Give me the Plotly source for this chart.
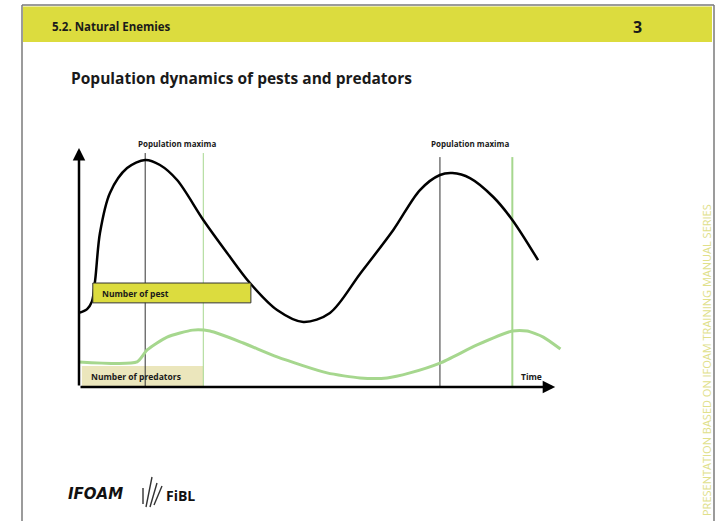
import plotly.graph_objects as go

# ---- data (time in arbitrary units 0..100, population in relative units 0..100)
pest_time = [0, 1.7, 2.7, 3.4, 4.4, 6.5, 10.1, 13.9, 17.0, 20.6, 26.1, 31.1, 35.9,
             41.6, 47.1, 52.7, 59.0, 66.0, 71.6, 75.8, 78.4, 82.1, 87.0, 91.0, 96.4]
pest_count = [31.0, 32.6, 35.7, 44.8, 64.4, 81.2, 91.6, 95.0, 92.9, 86.6, 69.9, 56.1, 43.5,
              32.2, 27.2, 31.0, 47.3, 65.7, 82.4, 88.7, 89.5, 87.4, 79.5, 69.9, 53.1]

predator_time = [0, 12.2, 14.3, 18.5, 23.9, 27.5, 34.5, 41.6, 52.1, 59.0, 64.7, 69.5,
                 75.8, 83.6, 91.0, 94.1, 97.5, 101.1]
predator_count = [10.5, 10.5, 15.5, 20.9, 23.8, 23.4, 18.4, 12.6, 5.9, 3.8, 3.8, 5.9,
                  10.0, 17.6, 23.4, 23.4, 20.9, 15.9]

pest_maxima = [13.9, 75.8]        # times of pest population maxima
predator_maxima = [26.1, 91.0]    # times of predator population maxima
maxima_top = [97.9, 96.2]
maxima_label = "Population maxima"
maxima_label_pos = [20.6, 82.1]

header_text = "5.2. Natural Enemies"
page_number = "3"
title_text = "Population dynamics of pests and predators"
side_text = "PRESENTATION BASED ON IFOAM TRAINING MANUAL SERIES"

W, H = 718, 521
YELLOW = "#dcdc3e"
GREEN = "#a6d78e"
FONT = "Open Sans"

X0_PX, X1_PX, X_MAX = 79, 579, 105


def px(x):
    return x / W


def py(y):
    return 1 - y / H


def data_to_paper_x(t):
    return px(X0_PX + (X1_PX - X0_PX) * t / X_MAX)


fig = go.Figure()

# vertical marker lines at the maxima
for i, t in enumerate(pest_maxima):
    fig.add_trace(go.Scatter(x=[t, t], y=[0, maxima_top[i]], mode="lines",
                             line=dict(color="#333333", width=1), hoverinfo="skip"))
for i, t in enumerate(predator_maxima):
    fig.add_trace(go.Scatter(x=[t, t], y=[0, maxima_top[i]], mode="lines",
                             line=dict(color=GREEN, width=1 if i == 0 else 2), hoverinfo="skip"))

# population curves
fig.add_trace(go.Scatter(x=predator_time, y=predator_count, mode="lines",
                         line=dict(color=GREEN, width=3, shape="spline", smoothing=0.6),
                         name="Number of predators"))
fig.add_trace(go.Scatter(x=pest_time, y=pest_count, mode="lines",
                         line=dict(color="black", width=2.5, shape="spline", smoothing=0.9),
                         name="Number of pest"))

shapes = [
    # slide frame
    dict(type="line", xref="paper", yref="paper", x0=px(22), x1=px(714), y0=py(5), y1=py(5),
         line=dict(color="#7a7a7a", width=1.5)),
    dict(type="line", xref="paper", yref="paper", x0=px(22), x1=px(22), y0=py(5), y1=0,
         line=dict(color="#7a7a7a", width=1.5)),
    dict(type="line", xref="paper", yref="paper", x0=px(714), x1=px(714), y0=py(5), y1=0,
         line=dict(color="#7a7a7a", width=1.5)),
    # header band
    dict(type="rect", xref="paper", yref="paper", x0=px(23), x1=px(712), y0=py(42), y1=py(6.5),
         fillcolor=YELLOW, line=dict(width=0), layer="below"),
    # label boxes
    dict(type="rect", xref="x", yref="y", x0=0.6, x1=26.1, y0=0, y1=8.8,
         fillcolor="#ebe6bc", line=dict(width=0), layer="below"),
    dict(type="rect", xref="x", yref="y", x0=2.9, x1=36.1, y0=35.2, y1=43.5,
         fillcolor=YELLOW, line=dict(color="#333333", width=1), layer="above"),
    # FiBL mark
    dict(type="path", xref="paper", yref="paper",
         path=f"M {px(146)},{py(507)} L {px(152)},{py(477)} M {px(150)},{py(507)} L {px(157)},{py(483)}"
              f" M {px(154)},{py(505)} L {px(162)},{py(486)} M {px(143)},{py(488)} L {px(143)},{py(504)}",
         line=dict(color="#333333", width=1.4)),
]

annotations = [
    dict(text=f"<b>{header_text}</b>", xref="paper", yref="paper", x=px(50), y=py(27),
         xanchor="left", yanchor="middle", showarrow=False,
         font=dict(family=FONT, size=11.5, color="#1a1a1a")),
    dict(text=f"<b>{page_number}</b>", xref="paper", yref="paper", x=px(637), y=py(27),
         xanchor="center", yanchor="middle", showarrow=False,
         font=dict(family=FONT, size=16, color="#1a1a1a")),
    dict(text=f"<b>{title_text}</b>", xref="paper", yref="paper", x=px(69), y=py(78),
         xanchor="left", yanchor="middle", showarrow=False,
         font=dict(family=FONT, size=15.5, color="#1a1a1a")),
    dict(text=side_text, xref="paper", yref="paper", x=px(706), y=py(360),
         xanchor="center", yanchor="middle", textangle=-90, showarrow=False,
         font=dict(family=FONT, size=11, color="#e0e08a")),
    # axes with arrow heads
    dict(x=0, y=100, ax=0, ay=0, xref="x", yref="y", axref="x", ayref="y", text="",
         showarrow=True, arrowhead=2, arrowsize=1, arrowwidth=2.5, arrowcolor="black"),
    dict(x=100, y=0, ax=0, ay=0, xref="x", yref="y", axref="x", ayref="y", text="",
         showarrow=True, arrowhead=2, arrowsize=1, arrowwidth=2.5, arrowcolor="black"),
    # chart labels
    dict(text="<b>Number of pest</b>", x=4.4, y=39.3, xref="x", yref="y",
         xanchor="left", yanchor="middle", showarrow=False,
         font=dict(family=FONT, size=8.5, color="#1a1a1a")),
    dict(text="<b>Number of predators</b>", x=2.1, y=4.4, xref="x", yref="y",
         xanchor="left", yanchor="middle", showarrow=False,
         font=dict(family=FONT, size=8.5, color="#1a1a1a")),
    dict(text="<b>Time</b>", x=95, y=4.6, xref="x", yref="y",
         xanchor="center", yanchor="middle", showarrow=False,
         font=dict(family=FONT, size=8.5, color="#1a1a1a")),
    # logos
    dict(text="<b><i>IFOAM</i></b>", xref="paper", yref="paper", x=px(66), y=py(494),
         xanchor="left", yanchor="middle", showarrow=False,
         font=dict(family="DejaVu Sans", size=15, color="#111111")),
    dict(text="<b>FiBL</b>", xref="paper", yref="paper", x=px(164), y=py(495),
         xanchor="left", yanchor="middle", showarrow=False,
         font=dict(family=FONT, size=14, color="#111111")),
]

for t in maxima_label_pos:
    annotations.append(dict(text=f"<b>{maxima_label}</b>", x=data_to_paper_x(t), y=py(143),
                            xref="paper", yref="paper", xanchor="center", yanchor="middle",
                            showarrow=False, font=dict(family=FONT, size=8, color="#1a1a1a")))

fig.update_layout(
    width=W, height=H, margin=dict(l=0, r=0, t=0, b=0),
    paper_bgcolor="white", plot_bgcolor="white", showlegend=False,
    xaxis=dict(domain=[px(X0_PX), px(X1_PX)], range=[0, X_MAX], visible=False, fixedrange=True),
    yaxis=dict(domain=[py(387), py(148)], range=[0, 100], visible=False, fixedrange=True),
    shapes=shapes, annotations=annotations,
)

fig.write_html("out.html")
